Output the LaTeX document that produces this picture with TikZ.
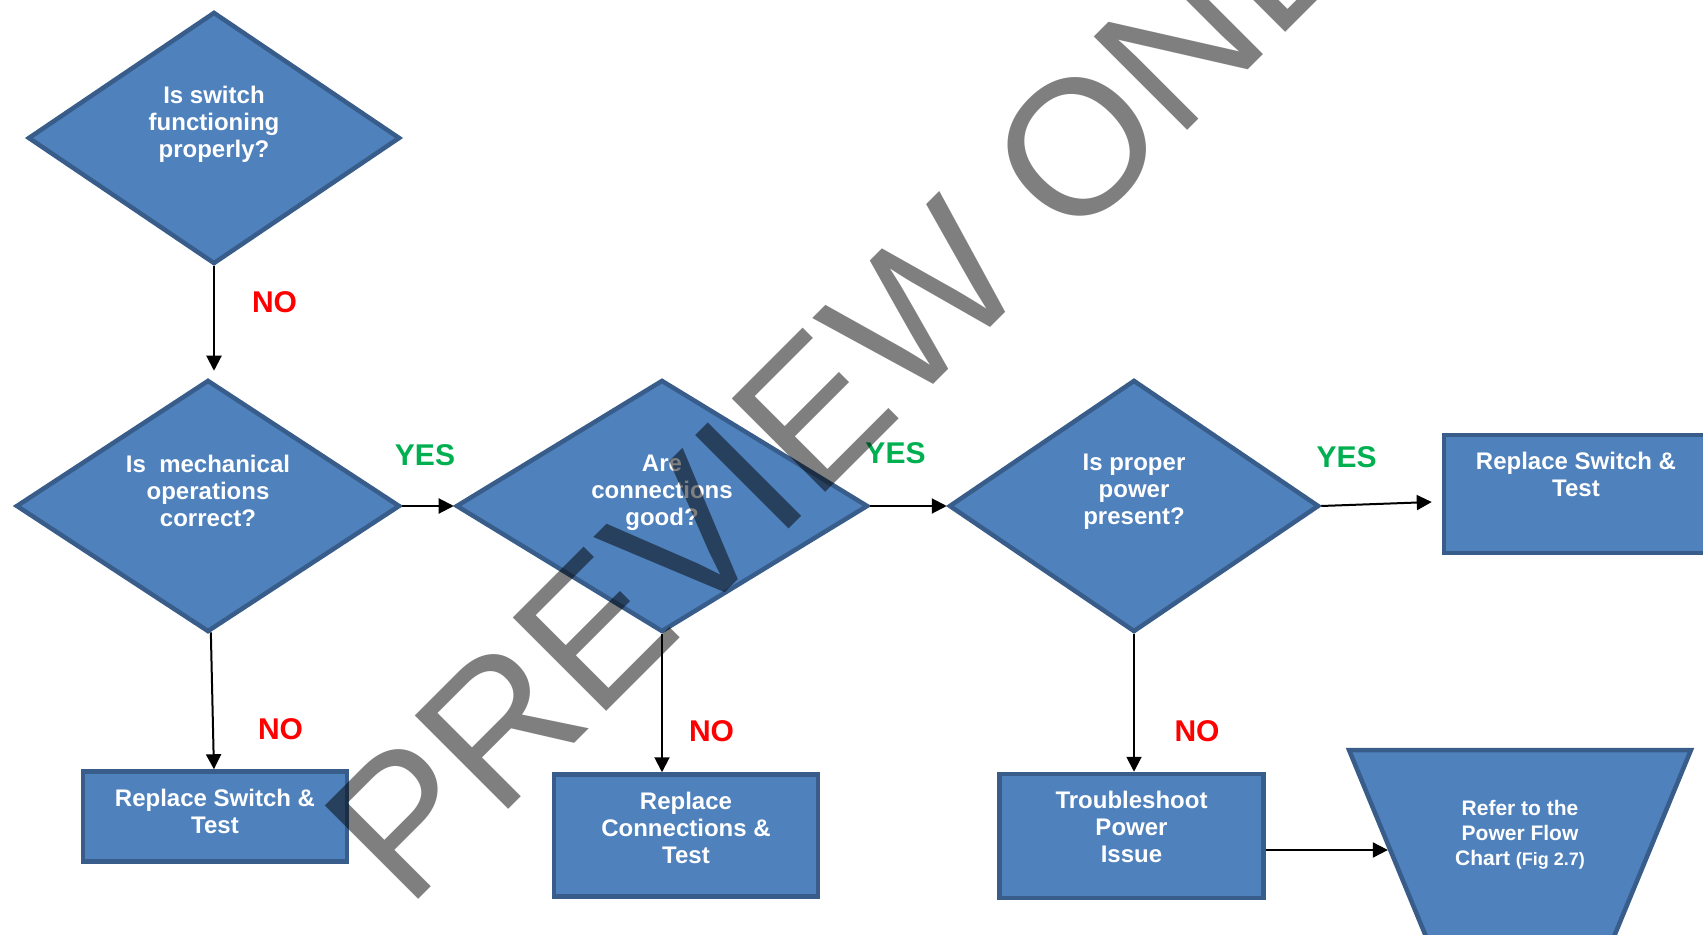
\documentclass[tikz,border=0pt]{standalone}
\usepackage{fontspec}
\setmainfont{Liberation Sans}
\usetikzlibrary{shapes.geometric,arrows.meta,positioning}
\definecolor{boxfill}{HTML}{4F81BD}
\definecolor{boxline}{HTML}{385D8A}
\definecolor{yesgreen}{HTML}{00B050}
\tikzstyle{decision} = [diamond, draw=boxline, fill=boxfill, line width=2.25pt, inner sep=0pt, minimum height=126pt]
\tikzstyle{block} = [rectangle, draw=boxline, fill=boxfill, line width=2.25pt, minimum width=132pt]
\tikzstyle{manual} = [trapezium, trapezium angle=65, shape border rotate=180, trapezium stretches=true, draw=boxline, fill=boxfill, line width=2.25pt, minimum width=171pt, minimum height=100pt]
\tikzstyle{txt} = [text=white, font=\bfseries\fontsize{12}{13.5}\selectfont, align=center, inner sep=0pt, anchor=north]
\tikzstyle{no} = [text=red, font=\bfseries\fontsize{15}{18}\selectfont, inner sep=0pt]
\tikzstyle{yes} = [text=yesgreen, font=\bfseries\fontsize{15}{18}\selectfont, inner sep=0pt]
\tikzstyle{line} = [draw, line width=1pt, -{Triangle[length=7.5pt,width=7.5pt]}]
\tikzstyle{watermark} = [text=black, text opacity=0.5, font=\fontsize{96}{100}\selectfont, inner sep=0pt, rotate=45, anchor=base west]

\begin{document}
\begin{tikzpicture}[x=0.5pt, y=-0.5pt]
    \useasboundingbox (0,0) rectangle (1703,935);
    % Place nodes
    \node [decision, minimum width=186pt] (switch) at (214,138) {};
    \node [decision, minimum width=192pt] (mech) at (208,506) {};
    \node [decision, minimum width=206pt] (conn) at (662,506) {};
    \node [decision, minimum width=185pt] (power) at (1134,506) {};
    \node [block, minimum height=45pt] (repswitch) at (215,816.5) {};
    \node [block, minimum height=61pt] (repconn) at (686,835.5) {};
    \node [block, minimum height=62pt] (trouble) at (1131.5,836) {};
    \node [block, minimum height=59pt] (repswitchb) at (1576,494) {};
    \node [manual] (powerflow) at (1520,850) {};
    % Texts
    \node [txt] at ([yshift=26pt]switch.center) {Is switch\\functioning\\properly?};
    \node [txt] at ([yshift=25.5pt]mech.center) {Is\ \ mechanical\\operations\\correct?};
    \node [txt] at ([yshift=25.5pt]conn.center) {Are\\connections\\good?};
    \node [txt] at ([yshift=26pt]power.center) {Is proper\\power\\present?};
    \node [txt] at ([yshift=-9.5pt]repswitch.north) {Replace Switch \&\\Test};
    \node [txt] at ([yshift=-9.5pt]repconn.north) {Replace\\Connections \&\\Test};
    \node [txt] at ([yshift=-9.5pt]trouble.north) {Troubleshoot\\Power\\Issue};
    \node [txt] at ([yshift=-9.5pt]repswitchb.north) {Replace Switch \&\\Test};
    \node [txt, font=\bfseries\fontsize{10.5}{12.5}\selectfont] at ([yshift=25pt]powerflow.center)
        {Refer to the\\Power Flow\\Chart {\fontsize{9}{12.5}\selectfont(Fig 2.7)}};
    % Draw edges
    \path [line, shorten >=3.5pt] (switch.south) -- (switch.south |- mech.north);
    \path [line] (mech) -- (conn);
    \path [line] (conn) -- (power);
    \path [line] (power.east) -- ([xshift=-5pt,yshift=-4pt]repswitchb.west);
    \path [line] (mech) -- (repswitch);
    \path [line] (conn.south) -- (conn.south |- repconn.north);
    \path [line] (power.south) -- (power.south |- trouble.north);
    \path [line] (trouble.east |- powerflow) -- (powerflow);
    % Answers
    \node [no] at (274.5,302.5) {NO};
    \node [yes] at (425,455) {YES};
    \node [yes] at (895.5,453) {YES};
    \node [yes] at (1346.5,457.5) {YES};
    \node [no] at (280.5,729) {NO};
    \node [no] at (711.5,731.5) {NO};
    \node [no] at (1197,731) {NO};
    % Watermark
    \node [watermark] at (407,911) {PREVIEW ONLY};
\end{tikzpicture}
\end{document}
